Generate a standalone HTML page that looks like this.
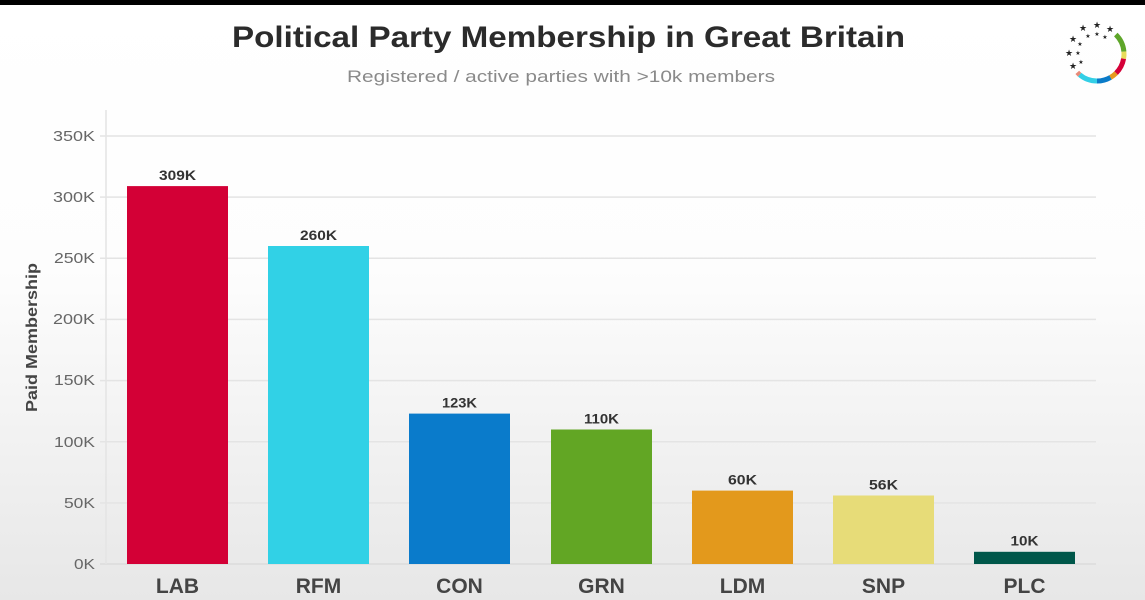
<!DOCTYPE html>
<html>
<head>
<meta charset="utf-8">
<style>
  html,body{margin:0;padding:0;width:1145px;height:600px;overflow:hidden;background:#fff;}
  svg{display:block;}
  text{font-family:"Liberation Sans",Arial,sans-serif;}
</style>
</head>
<body>
<svg width="1145" height="600" viewBox="0 0 1145 600" xmlns="http://www.w3.org/2000/svg">
  <defs>
    <linearGradient id="bg" x1="0" y1="0" x2="0" y2="1">
      <stop offset="0" stop-color="#ffffff"/>
      <stop offset="0.45" stop-color="#fdfdfd"/>
      <stop offset="1" stop-color="#e7e7e7"/>
    </linearGradient>
  </defs>
  <rect x="0" y="0" width="1145" height="600" fill="url(#bg)"/>
  <rect x="0" y="0" width="1145" height="5" fill="#000"/>

  <!-- Title -->
  <text x="232" y="47" font-size="30" font-weight="bold" fill="#2b2b2b" textLength="673" lengthAdjust="spacingAndGlyphs">Political Party Membership in Great Britain</text>
  <text x="347" y="82" font-size="17" fill="#8a8a8a" textLength="428" lengthAdjust="spacingAndGlyphs">Registered / active parties with &gt;10k members</text>

  <!-- Logo -->
  <g fill="none" stroke-width="5">
    <path d="M1115.8,34.6 A27,27 0 0 1 1123.9,51.6" stroke="#5ea62a"/>
    <path d="M1123.9,51.6 A27,27 0 0 1 1123.6,58.7" stroke="#e8dc5a"/>
    <path d="M1123.6,58.7 A27,27 0 0 1 1116.1,73.1" stroke="#d50038"/>
    <path d="M1116.1,73.1 A27,27 0 0 1 1110.5,77.4" stroke="#e69a1e"/>
    <path d="M1110.5,77.4 A27,27 0 0 1 1097,81" stroke="#0a7bc8"/>
    <path d="M1097,81 A27,27 0 0 1 1079.6,74.7" stroke="#33cfe6"/>
    <path d="M1079.6,74.7 A27,27 0 0 1 1077.3,72.4" stroke="#e88a78"/>
  </g>
  <g font-family="DejaVu Sans, sans-serif" fill="#222" text-anchor="middle">
    <text x="1083" y="31" font-size="9">★</text>
    <text x="1097" y="28" font-size="9">★</text>
    <text x="1110" y="32" font-size="9">★</text>
    <text x="1073" y="42" font-size="9">★</text>
    <text x="1069" y="56" font-size="9">★</text>
    <text x="1073" y="69" font-size="9">★</text>
    <text x="1088" y="38" font-size="6">★</text>
    <text x="1097" y="36" font-size="6">★</text>
    <text x="1105" y="39" font-size="6">★</text>
    <text x="1080" y="46" font-size="6">★</text>
    <text x="1078" y="55" font-size="6">★</text>
    <text x="1081" y="64" font-size="6">★</text>
  </g>

  <!-- Gridlines -->
  <g stroke="#e4e4e4" stroke-width="1.5">
    <line x1="100" y1="136" x2="1096" y2="136"/>
    <line x1="100" y1="197.1" x2="1096" y2="197.1"/>
    <line x1="100" y1="258.3" x2="1096" y2="258.3"/>
    <line x1="100" y1="319.4" x2="1096" y2="319.4"/>
    <line x1="100" y1="380.6" x2="1096" y2="380.6"/>
    <line x1="100" y1="441.7" x2="1096" y2="441.7"/>
    <line x1="100" y1="502.9" x2="1096" y2="502.9"/>
    <line x1="100" y1="564" x2="1096" y2="564" stroke="#dcdcdc"/>
    <line x1="106" y1="110" x2="106" y2="564"/>
  </g>

  <!-- Y tick labels -->
  <g font-size="15" fill="#666" text-anchor="end">
    <text x="95" y="141" textLength="42" lengthAdjust="spacingAndGlyphs">350K</text>
    <text x="95" y="202" textLength="42" lengthAdjust="spacingAndGlyphs">300K</text>
    <text x="95" y="263" textLength="41" lengthAdjust="spacingAndGlyphs">250K</text>
    <text x="95" y="324" textLength="42" lengthAdjust="spacingAndGlyphs">200K</text>
    <text x="95" y="385" textLength="41" lengthAdjust="spacingAndGlyphs">150K</text>
    <text x="95" y="447" textLength="41" lengthAdjust="spacingAndGlyphs">100K</text>
    <text x="95" y="508" textLength="31" lengthAdjust="spacingAndGlyphs">50K</text>
    <text x="95" y="569" textLength="21" lengthAdjust="spacingAndGlyphs">0K</text>
  </g>

  <!-- Y axis title -->
  <text transform="translate(37,412) rotate(-90)" x="0" y="0" font-size="16" font-weight="bold" fill="#444" textLength="149" lengthAdjust="spacingAndGlyphs">Paid Membership</text>

  <!-- Bars -->
  <rect x="127" y="186.1" width="101" height="377.9" fill="#d30036"/>
  <rect x="268" y="246" width="101" height="318" fill="#31d1e6"/>
  <rect x="409" y="413.6" width="101" height="150.4" fill="#0a7bcb"/>
  <rect x="551" y="429.5" width="101" height="134.5" fill="#62a624"/>
  <rect x="692" y="490.6" width="101" height="73.4" fill="#e3991c"/>
  <rect x="833" y="495.5" width="101" height="68.5" fill="#e7dc78"/>
  <rect x="974" y="551.8" width="101" height="12.2" fill="#00574a"/>

  <!-- Value labels -->
  <g font-size="14" font-weight="bold" fill="#333" text-anchor="middle">
    <text x="177.5" y="180" textLength="37" lengthAdjust="spacingAndGlyphs">309K</text>
    <text x="318.5" y="240" textLength="37" lengthAdjust="spacingAndGlyphs">260K</text>
    <text x="459.5" y="407.5" textLength="35" lengthAdjust="spacingAndGlyphs">123K</text>
    <text x="601.5" y="423.5" textLength="35" lengthAdjust="spacingAndGlyphs">110K</text>
    <text x="742.5" y="484.5" textLength="29" lengthAdjust="spacingAndGlyphs">60K</text>
    <text x="883.5" y="489.5" textLength="29" lengthAdjust="spacingAndGlyphs">56K</text>
    <text x="1024.5" y="545.5" textLength="28" lengthAdjust="spacingAndGlyphs">10K</text>
  </g>

  <!-- X labels -->
  <g font-size="21" font-weight="bold" fill="#444" text-anchor="middle">
    <text x="177.5" y="593">LAB</text>
    <text x="318.5" y="593">RFM</text>
    <text x="459.5" y="593">CON</text>
    <text x="601.5" y="593">GRN</text>
    <text x="742.5" y="593">LDM</text>
    <text x="883.5" y="593">SNP</text>
    <text x="1024.5" y="593">PLC</text>
  </g>
</svg>
</body>
</html>
